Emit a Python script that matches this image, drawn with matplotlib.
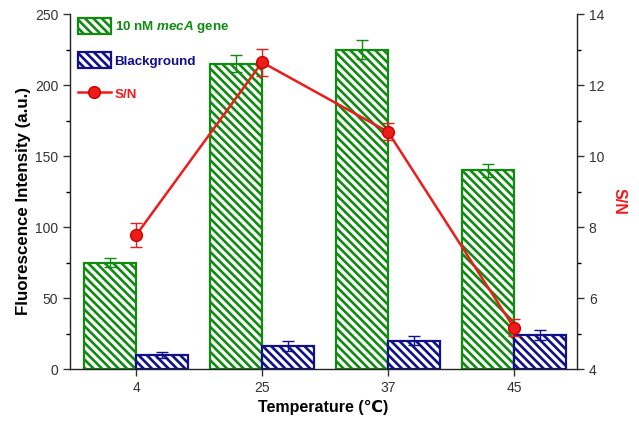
import matplotlib
matplotlib.use("Agg")
import matplotlib.pyplot as plt
import numpy as np
from matplotlib.patches import Patch
from matplotlib.lines import Line2D

plt.rcParams['font.family'] = ['Liberation Sans', 'DejaVu Sans']
plt.rcParams['mathtext.fontset'] = 'custom'
plt.rcParams['mathtext.it'] = 'Liberation Sans:italic:bold'
plt.rcParams['mathtext.rm'] = 'Liberation Sans:bold'
plt.rcParams['hatch.linewidth'] = 1.9

categories = ["4", "25", "37", "45"]
target = [75, 215, 225, 140]
target_err = [3.5, 6, 6.5, 4.5]
background = [10, 16.5, 20, 24]
background_err = [2, 3.5, 3.3, 3.5]
sn = [7.77, 12.64, 10.68, 5.16]
sn_err = [0.33, 0.38, 0.24, 0.24]

green = '#108a10'
blue = '#10108a'
red = '#ee1b1b'

fig = plt.figure(figsize=(6.39, 4.21), dpi=100)
ax = fig.add_axes([0.1095, 0.1235, 0.7935, 0.8432])
x = np.arange(len(categories))
w = 0.41
hatch = '\\\\\\\\'

ax.bar(x - w/2, target, w, facecolor='white', edgecolor=green, hatch=hatch, linewidth=1.6, zorder=2)
ax.errorbar(x - w/2, target, yerr=target_err, fmt='none', ecolor=green, elinewidth=1, capsize=4, capthick=1, zorder=3)
ax.bar(x + w/2, background, w, facecolor='white', edgecolor=blue, hatch=hatch, linewidth=1.6, zorder=2)
ax.errorbar(x + w/2, background, yerr=background_err, fmt='none', ecolor=blue, elinewidth=1, capsize=4, capthick=1, zorder=3)

ax.set_xlim(-0.525, 3.5)
ax.set_ylim(0, 250)
ax.set_xticks(x)
ax.set_xticklabels(categories)
ax.set_yticks(np.arange(0, 251, 50))
ax.set_yticks(np.arange(25, 250, 50), minor=True)
ax.tick_params(direction='out', length=5, width=1, labelsize=10, colors='#333333')
ax.tick_params(which='minor', direction='out', length=3, width=1)
ax.spines['top'].set_visible(False)
ax.spines['right'].set_visible(False)
for s in ['left', 'bottom']:
    ax.spines[s].set_linewidth(1)
    ax.spines[s].set_color('#222222')
ax.set_ylabel('Fluorescence Intensity (a.u.)', fontsize=12.2, fontweight='bold')
ax.yaxis.set_label_coords(-0.077, 0.473)
ax.set_xlabel('Temperature (℃)', fontsize=11.5, fontweight='bold', labelpad=4)

ax2 = ax.twinx()
ax2.errorbar(x, sn, yerr=sn_err, color=red, linewidth=1.8, marker='o', markersize=8.5,
             markerfacecolor=red, markeredgecolor='#cc0000', ecolor=red, elinewidth=1, capsize=4, capthick=1, zorder=4)
ax2.set_ylim(4, 14)
ax2.set_yticks(np.arange(4, 15, 2))
ax2.set_yticks(np.arange(5, 14, 2), minor=True)
ax2.tick_params(direction='out', length=5, width=1, labelsize=10, colors='#333333')
ax2.tick_params(which='minor', direction='out', length=3, width=1)
ax2.spines['top'].set_visible(False)
ax2.spines['left'].set_visible(False)
ax2.spines['bottom'].set_visible(False)
ax2.spines['right'].set_linewidth(1)
ax2.spines['right'].set_color('#222222')
ax2.set_ylabel('S/N', fontsize=11.5, fontweight='bold', color=red, rotation=270)
ax2.yaxis.set_label_coords(1.098, 0.473)

handles = [
    Patch(facecolor='white', edgecolor=green, hatch=hatch, linewidth=1.6),
    Patch(facecolor='white', edgecolor=blue, hatch=hatch, linewidth=1.6),
    Line2D([0], [0], color=red, linewidth=1.8, marker='o', markersize=8.5, markerfacecolor=red, markeredgecolor='#cc0000'),
]
labels = [r'10 nM $\mathit{mecA}$ gene', 'Blackground', 'S/N']
leg = ax2.legend(handles, labels, loc='upper left', bbox_to_anchor=(0.122, 0.958),
                 bbox_transform=fig.transFigure, frameon=False, borderpad=0, borderaxespad=0,
                 handlelength=2.45, handleheight=1.45, labelspacing=1.3, handletextpad=0.3,
                 prop={'size': 9.6, 'weight': 'bold'})
for t, c in zip(leg.get_texts(), [green, blue, red]):
    t.set_color(c)

fig.savefig('out.png', dpi=100)
